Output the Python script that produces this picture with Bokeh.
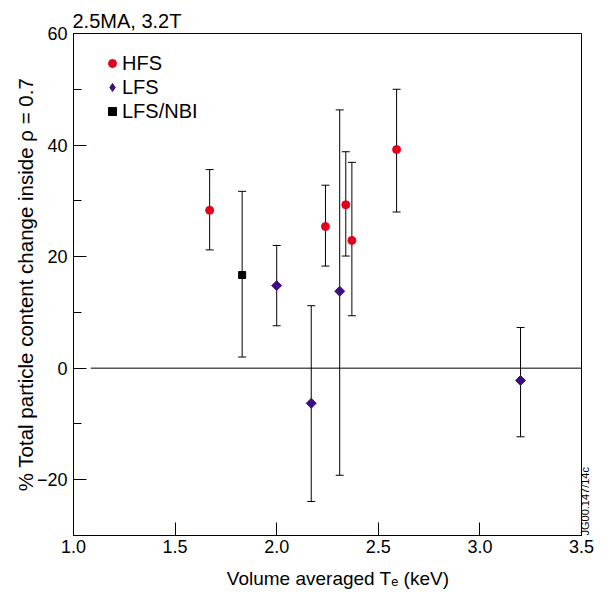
import math
from bokeh.plotting import figure
from bokeh.models import (ColumnDataSource, Whisker, TeeHead, FixedTicker, Title,
                          Legend, LegendItem, Range1d, NumeralTickFormatter, LinearAxis)
from bokeh.embed import file_html
from bokeh.resources import INLINE

# ---- data ----
hfs_x = [1.67, 2.24, 2.34, 2.37, 2.59]
hfs_y = [28.3, 25.4, 29.3, 22.9, 39.2]
hfs_hi = [35.6, 32.8, 38.8, 36.9, 50.0]
hfs_lo = [21.2, 18.3, 20.1, 9.4, 28.0]

lfs_x = [2.00, 2.17, 2.31, 3.20]
lfs_y = [14.8, -6.3, 13.8, -2.2]
lfs_hi = [22.0, 11.2, 46.3, 7.3]
lfs_lo = [7.6, -23.9, -19.2, -12.3]

nbi_x = [1.83]
nbi_y = [16.7]
nbi_hi = [31.7]
nbi_lo = [2.0]

x_ticks = [1.0, 1.5, 2.0, 2.5, 3.0, 3.5]
y_ticks = [-20, 0, 20, 40, 60]
y_minor = [-30, -10, 10, 30, 50]

FONT = "Liberation Sans"
RED = "#e4001b"
PURPLE = "#3d0d85"

p = figure(width=603, height=595, output_backend="svg", toolbar_location=None,
           x_range=Range1d(1.0, 3.5), y_range=Range1d(-30, 60),
           min_border_left=73, min_border_right=22, min_border_top=33,
           min_border_bottom=60)
p.grid.visible = False
p.outline_line_color = "black"
p.outline_line_width = 1
p.background_fill_color = "white"
p.border_fill_color = "white"

for ax in (p.xaxis[0], p.yaxis[0]):
    ax.axis_line_color = "black"
    ax.major_tick_line_color = "black"
    ax.minor_tick_line_color = "black"
    ax.major_tick_out = 0
    ax.major_tick_in = 13
    ax.minor_tick_out = 0
    ax.minor_tick_in = 8
    ax.major_label_text_font = FONT
    ax.major_label_text_font_size = "18px"
    ax.major_label_text_color = "black"
    ax.axis_label_text_font = FONT
    ax.axis_label_text_font_style = "normal"
    ax.axis_label_text_color = "black"

p.xaxis.ticker = FixedTicker(ticks=x_ticks, minor_ticks=[])
p.xaxis.formatter = NumeralTickFormatter(format="0.0")
p.yaxis.ticker = FixedTicker(ticks=y_ticks, minor_ticks=y_minor)
p.yaxis.major_label_overrides = {-20: "\u221220"}
p.xaxis.major_label_standoff = 4
p.yaxis.major_label_standoff = 6
p.yaxis.axis_label = "% Total particle content change inside \u03c1 = 0.7"
p.yaxis.axis_label_text_font_size = "20.5px"
p.yaxis.axis_label_standoff = -3
p.xaxis.axis_label = "\u00a0\u00a0\u00a0\u00a0Volume averaged T\u2091 (keV)"
p.xaxis.axis_label_text_font_size = "19px"
p.xaxis.axis_label_standoff = 12

# title
p.add_layout(Title(text="2.5MA, 3.2T", align="left", offset=-1, standoff=3,
                   text_font=FONT, text_font_size="20px", text_font_style="normal",
                   text_color="black"), "above")

# side reference tag, drawn as the label of a bare right-hand axis
tag = LinearAxis(ticker=FixedTicker(ticks=[]), axis_line_color=None,
                 major_tick_line_color=None, minor_tick_line_color=None,
                 major_label_text_font_size="0px", major_tick_in=0, major_tick_out=0,
                 minor_tick_in=0, minor_tick_out=0,
                 axis_label="JG00.147/14c", axis_label_text_font=FONT,
                 axis_label_text_font_size="11px", axis_label_text_font_style="normal",
                 axis_label_text_color="black", axis_label_standoff=3,
                 major_label_standoff=0)
props = LinearAxis.properties()
if "axis_label_orientation" in props:
    tag.axis_label_orientation = math.pi / 2
if "axis_label_align" in props:
    tag.axis_label_align = "start"
p.add_layout(tag, "right")

# zero line
p.segment(x0=[1.085], y0=[0], x1=[3.5], y1=[0], line_color="black", line_width=1)

# error bars
def whisk(xs, hi, lo):
    src = ColumnDataSource(dict(x=xs, upper=hi, lower=lo))
    w = Whisker(source=src, base="x", upper="upper", lower="lower",
                dimension="height", line_color="black", line_width=1,
                upper_head=TeeHead(size=8, line_color="black", line_width=1),
                lower_head=TeeHead(size=8, line_color="black", line_width=1))
    p.add_layout(w)

whisk(hfs_x, hfs_hi, hfs_lo)
whisk(lfs_x, lfs_hi, lfs_lo)
whisk(nbi_x, nbi_hi, nbi_lo)

r_hfs = p.scatter(hfs_x, hfs_y, marker="circle", size=8, fill_color=RED, line_color=RED)
r_lfs = p.scatter(lfs_x, lfs_y, marker="square", size=7, angle=math.pi / 4,
                  fill_color=PURPLE, line_color=PURPLE)
r_nbi = p.scatter(nbi_x, nbi_y, marker="square", size=7, fill_color="black", line_color="black")
# hidden diamond renderer used only for the legend key (legends ignore marker angles)
r_lfs_key = p.scatter(lfs_x, lfs_y, marker="diamond", size=8,
                      fill_color=PURPLE, line_color=PURPLE, visible=False)

legend = Legend(items=[LegendItem(label="HFS", renderers=[r_hfs]),
                       LegendItem(label="LFS", renderers=[r_lfs_key]),
                       LegendItem(label="LFS/NBI", renderers=[r_nbi])],
                location=(29, 412), padding=0, margin=0, spacing=0,
                glyph_width=20, glyph_height=24, label_height=24, label_standoff=0,
                label_text_font=FONT, label_text_font_size="20px",
                label_text_color="black", background_fill_alpha=0,
                border_line_alpha=0, inactive_fill_alpha=0, click_policy="none")
p.add_layout(legend)

open("out.html", "w").write(file_html(p, INLINE))
